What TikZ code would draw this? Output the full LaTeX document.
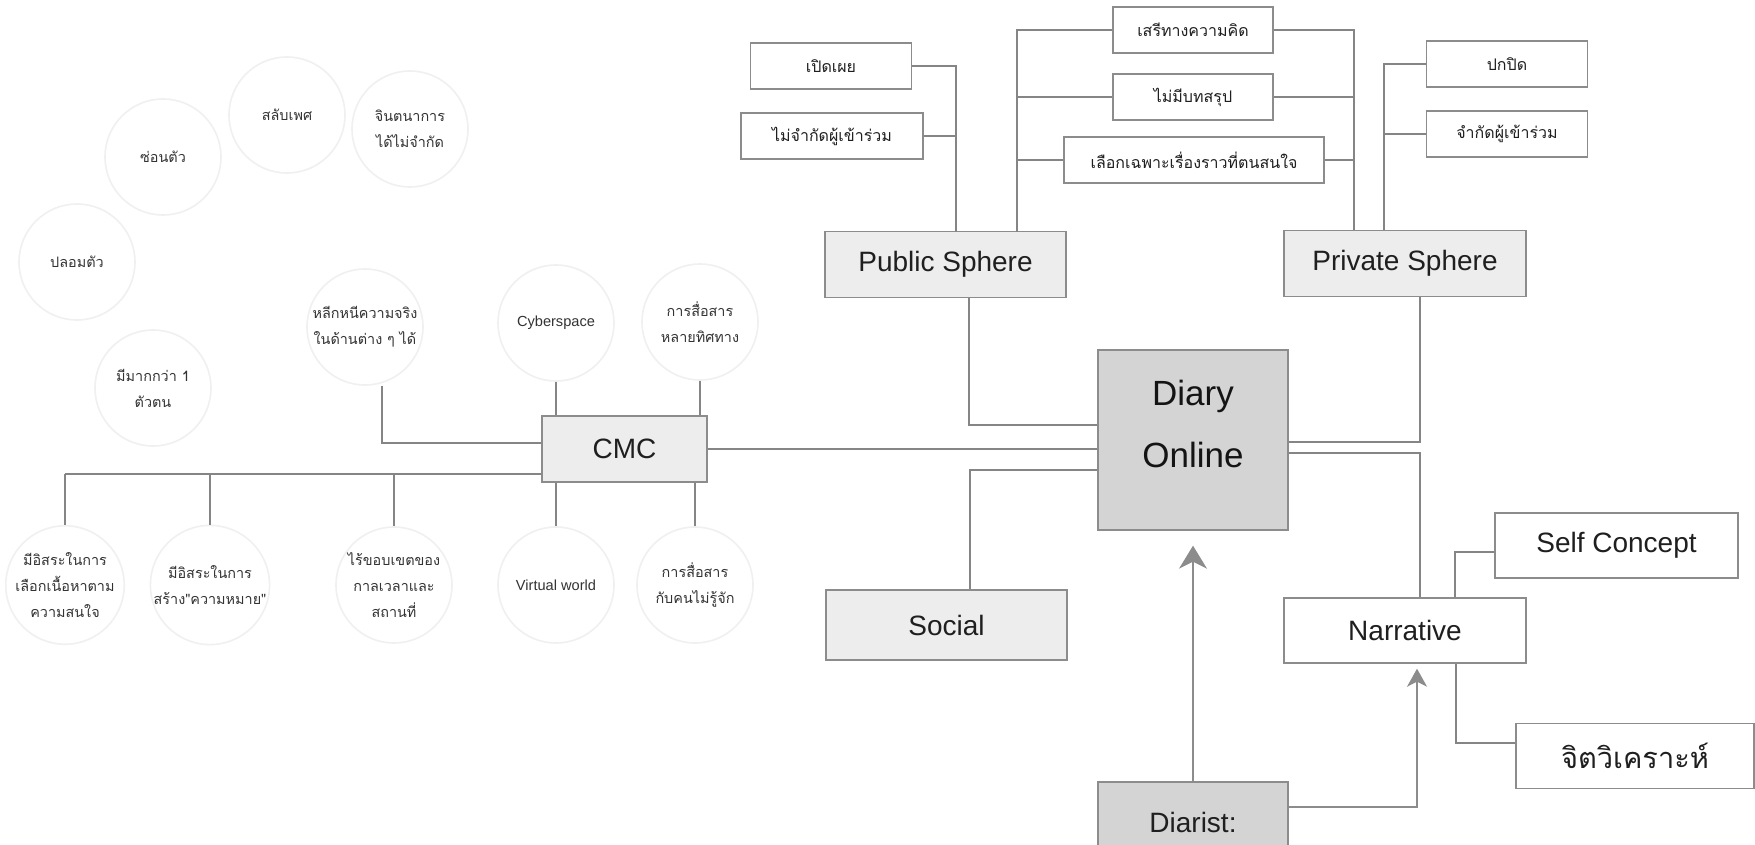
\documentclass[tikz,border=0pt]{standalone}
\usepackage{fontspec}
\setmainfont{Liberation Sans}
\newfontfamily\thai[Script=Thai]{Loma}
\usetikzlibrary{arrows.meta}
\begin{document}
\begin{tikzpicture}[x=0.5pt,y=-0.5pt,
  conn/.style={draw=black!48, line width=0.7pt},
  bx/.style={rectangle, draw=black!45, line width=0.7pt, inner sep=0pt, text=black!88},
  sbox/.style={bx, fill=white, minimum height=23pt, font=\thai\fontsize{8}{10}\selectfont},
  gbox/.style={bx, fill=black!7, minimum width=120.5pt, minimum height=33pt, font=\fontsize{14}{16}\selectfont},
  wbox/.style={bx, fill=white, minimum width=121pt, minimum height=32.5pt, font=\fontsize{14}{16}\selectfont},
  dbox/.style={bx, fill=black!17, minimum width=95pt},
  circ/.style={circle, draw=black!6, line width=0.8pt, minimum size=58pt, inner sep=0pt, align=center, text=black!80, font=\thai\fontsize{7.2}{13}\selectfont},
  lcirc/.style={circ, font=\fontsize{7.3}{13}\selectfont},
  bigarr/.style={draw=black!45, line width=0.7pt, -{Stealth[length=11.5pt,width=14pt,inset=3.5pt]}},
  smallarr/.style={draw=black!45, line width=0.7pt, -{Stealth[length=9pt,width=10pt,inset=2.5pt]}}
]
\clip (0,0) rectangle (1755,845);
\fill[white] (0,0) rectangle (1755,845);

% ---- faint circles, upper left ----
\node[circ] (c1) at (163,157) {ซ่อนตัว};
\node[circ] (c2) at (287,115) {สลับเพศ};
\node[circ] (c3) at (410,129) {จินตนาการ\\ได้ไม่จำกัด};
\node[circ] (c4) at (77,262) {ปลอมตัว};
\node[circ] (c5) at (153,388) {มีมากกว่า 1\\ตัวตน};
\node[circ] (c6) at (365,327) {หลีกหนีความจริง\\ในด้านต่าง ๆ ได้};
\node[lcirc] (c7) at (556,323) {Cyberspace};
\node[circ] (c8) at (700,322) {การสื่อสาร\\หลายทิศทาง};

% ---- faint circles, lower left ----
\node[circ] (c9) at (65,585) {มีอิสระในการ\\เลือกเนื้อหาตาม\\ความสนใจ};
\node[circ] (c10) at (210,585) {มีอิสระในการ\\สร้าง"ความหมาย"};
\node[circ] (c11) at (394,585) {ไร้ขอบเขตของ\\กาลเวลาและ\\สถานที่};
\node[lcirc] (c12) at (556,585) {Virtual world};
\node[circ] (c13) at (695,585) {การสื่อสาร\\กับคนไม่รู้จัก};

% ---- small boxes at the top ----
\node[sbox, minimum width=80.5pt] (n1) at (831,66) {เปิดเผย};
\node[sbox, minimum width=91pt] (n2) at (832,136) {ไม่จำกัดผู้เข้าร่วม};
\node[sbox, minimum width=80pt] (n3) at (1193,30) {เสรีทางความคิด};
\node[sbox, minimum width=80pt] (n4) at (1193,97) {ไม่มีบทสรุป};
\node[sbox, minimum width=130pt] (n5) at (1194,160) {เลือกเฉพาะเรื่องราวที่ตนสนใจ};
\node[sbox, minimum width=80.5pt] (n6) at (1507,64) {ปกปิด};
\node[sbox, minimum width=80.5pt] (n7) at (1507,134) {จำกัดผู้เข้าร่วม};

% ---- main boxes ----
\node[gbox] (ps) at (945.5,264.5) {Public Sphere};
\node[gbox, minimum width=121pt] (pv) at (1405,263.5) {Private Sphere};
\node[gbox, minimum width=82.5pt] (cmc) at (624.5,449) {CMC};
\node[gbox, minimum height=35pt] (social) at (946.5,625) {Social};
\node[dbox, minimum height=90pt] (diary) at (1193,440) {};
\node[align=center, text=black!92, font=\fontsize{17.5}{31}\selectfont] (diarytxt) at (1193,424) {Diary\\Online};
\node[wbox] (narr) at (1405,630.5) {Narrative};
\node[wbox, minimum width=121.5pt] (self) at (1616.5,545.5) {Self Concept};
\node[wbox, minimum width=119pt, font=\thai\fontsize{14.5}{18}\selectfont] (psy) at (1635,756) {จิตวิเคราะห์};
\node[dbox, minimum height=40pt, font=\fontsize{14}{16}\selectfont] (diarist) at (1193,822) {Diarist:};

% ---- helper points ----
\coordinate (tA) at (956,232);
\coordinate (tB) at (1017,232);
\coordinate (tC) at (1354,230);
\coordinate (tD) at (1384,230);
\coordinate (a1) at (969,425);
\coordinate (a2) at (970,470);
\coordinate (a3) at (1420,442);
\coordinate (a4) at (1420,453);
\coordinate (a5) at (1455,552);
\coordinate (a6) at (1456,743);
\coordinate (a7) at (1417,807);
\coordinate (b1) at (382,443);
\coordinate (b2) at (65,474);

% ---- public sphere side ----
\draw[conn] (n1.east) -| (tA);
\draw[conn] (n2.east) -- (n2.east -| tA);
\draw[conn] (tB) |- (n3.west);
\draw[conn] (n4.west) -- (n4.west -| tB);
\draw[conn] (n5.west) -- (n5.west -| tB);
% ---- private sphere side ----
\draw[conn] (tC) |- (n3.east);
\draw[conn] (n4.east) -- (n4.east -| tC);
\draw[conn] (n5.east) -- (n5.east -| tC);
\draw[conn] (tD) |- (n6.west);
\draw[conn] (n7.west) -- (n7.west -| tD);

% ---- links to Diary Online ----
\draw[conn] (ps.south -| a1) |- (diary.west |- a1);
\draw[conn] (cmc.east) -- (cmc.east -| diary.west);
\draw[conn] (social.north -| a2) |- (diary.west |- a2);
\draw[conn] (pv.south -| a3) |- (diary.east |- a3);
\draw[conn] (narr.north -| a4) |- (diary.east |- a4);
\draw[conn] (self.west |- a5) -| (narr.north -| a5);
\draw[conn] (narr.south -| a6) |- (psy.west |- a6);

% ---- CMC branches ----
\draw[conn] (c6.south -| b1) |- (cmc.west |- b1);
\draw[conn] (c7.south) -- (c7.south |- cmc.north);
\draw[conn] (c8.south) -- (c8.south |- cmc.north);
\draw[conn] (c9.north |- b2) -- (cmc.west |- b2);
\draw[conn] (c9.north |- b2) -- (c9.north);
\draw[conn] (c10.north |- b2) -- (c10.north);
\draw[conn] (c11.north |- b2) -- (c11.north);
\draw[conn] (cmc.south -| c12.north) -- (c12.north);
\draw[conn] (cmc.south -| c13.north) -- (c13.north);

% ---- arrows from Diarist ----
\draw[bigarr, shorten >=7.5pt] (diarist.north) -- (diary.south);
\draw[smallarr, shorten >=2.5pt] (diarist.east |- a7) -| (narr.south -| a7);
\end{tikzpicture}
\end{document}
